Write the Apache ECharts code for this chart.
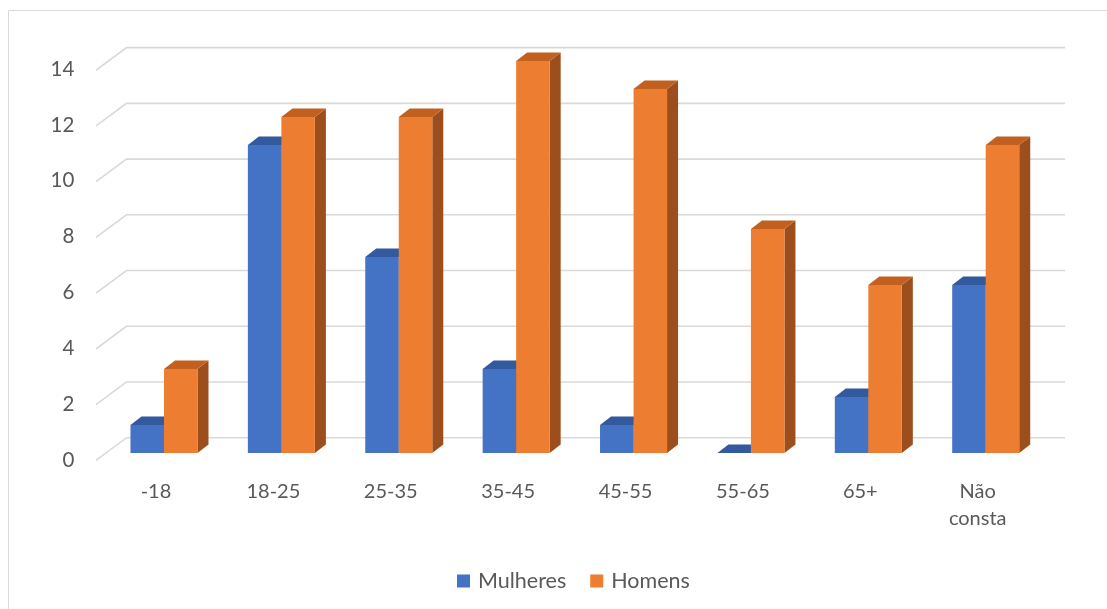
<!DOCTYPE html>
<html>
<head>
<meta charset="utf-8">
<script src="https://cdn.jsdelivr.net/npm/echarts@6/dist/echarts.min.js"></script>
<style>
  html, body { margin: 0; padding: 0; background: #fff; }
  #chart { width: 1107px; height: 609px; }
</style>
</head>
<body>
<div id="chart"></div>
<script>
// Faixas etárias e contagens por sexo
const categories = ['-18', '18-25', '25-35', '35-45', '45-55', '55-65', '65+', 'Não\nconsta'];
const mulheres = [1, 11, 7, 3, 1, 0, 2, 6];
const homens = [3, 12, 12, 14, 13, 8, 6, 11];
const yTicks = [0, 2, 4, 6, 8, 10, 12, 14];

const FONT = 'Lato, "Open Sans", sans-serif';
const TEXT = '#595959';
const DEPTH_X = 11, DEPTH_Y = -8.5;   // oblique depth of each column

// Back-wall gridlines with the short diagonal running to the front edge of the floor
function renderGrid(params, api) {
  const v = api.value(1);
  const cs = params.coordSys;
  const y0 = cs.y + cs.height;
  const yc = api.coord([0, v])[1];
  const back = y0 - 15.3 + (yc - y0) * 0.995;
  const front = back + 22.6;
  const xf = cs.x - 9.3, xb = cs.x + 21.2, xr = cs.x + cs.width + 20.6;
  return {
    type: 'polyline',
    silent: true,
    shape: { points: [[xf, front], [xb, back], [xr, back]] },
    style: { stroke: '#D9D9D9', lineWidth: 1.6, fill: null }
  };
}

// 3D-looking column: front face, top face and right side face
function columnRenderer(slot, faces) {
  return function (params, api) {
    const cat = api.value(0), val = api.value(1);
    const base = api.coord([cat, 0]);
    const top = api.coord([cat, val]);
    const bw = api.size([1, 0])[0] * 0.2855;
    const x = slot === 0 ? base[0] - bw : base[0];
    const y0 = base[1], y1 = top[1];
    return {
      type: 'group',
      children: [
        {
          type: 'polygon',
          shape: { points: [[x + bw, y1], [x + bw + DEPTH_X, y1 + DEPTH_Y], [x + bw + DEPTH_X, y0 + DEPTH_Y], [x + bw, y0]] },
          style: { fill: faces.side }
        },
        {
          type: 'polygon',
          shape: { points: [[x, y1], [x + bw, y1], [x + bw + DEPTH_X, y1 + DEPTH_Y], [x + DEPTH_X, y1 + DEPTH_Y]] },
          style: { fill: faces.top }
        },
        {
          type: 'rect',
          shape: { x: x, y: y1, width: bw, height: y0 - y1 },
          style: { fill: faces.front }
        }
      ]
    };
  };
}

const chart = echarts.init(document.getElementById('chart'), null, { renderer: 'canvas' });

const hiddenLines = {
  axisLine: { show: false },
  axisTick: { show: false },
  splitLine: { show: false }
};

chart.setOption({
  backgroundColor: '#ffffff',
  animation: false,
  graphic: [{
    type: 'rect',
    silent: true,
    shape: { x: 8.5, y: 10.5, width: 1300, height: 800 },
    style: { fill: null, stroke: '#D9D9D9', lineWidth: 1 }
  }],
  grid: [
    // plotting plane of the column fronts
    { left: 105.3, right: 62.6, top: 61, bottom: 156, containLabel: false },
    // front edge of the floor, where the value labels sit
    { left: 105.3, right: 62.6, top: 69, bottom: 148.5, containLabel: false }
  ],
  legend: {
    data: ['Mulheres', 'Homens'],
    left: 452,
    top: 565,
    icon: 'rect',
    itemWidth: 13,
    itemHeight: 13,
    itemGap: 24,
    textStyle: { color: TEXT, fontSize: 21.5, fontFamily: FONT, padding: [0, 0, 0, 3] }
  },
  xAxis: [
    {
      type: 'category',
      gridIndex: 0,
      data: categories,
      ...hiddenLines,
      axisLabel: {
        color: TEXT, fontSize: 20, fontFamily: FONT, lineHeight: 27,
        margin: 25, interval: 0, padding: [0, 16, 0, 0]
      }
    },
    {
      type: 'category',
      gridIndex: 1,
      data: categories,
      show: false
    }
  ],
  yAxis: [
    {
      type: 'value',
      gridIndex: 0,
      min: 0, max: 14, interval: 2,
      ...hiddenLines,
      axisLabel: { show: false }
    },
    {
      type: 'value',
      gridIndex: 1,
      min: 0, max: 14, interval: 2,
      ...hiddenLines,
      axisLabel: { color: TEXT, fontSize: 20.5, fontFamily: FONT, margin: 31 }
    }
  ],
  series: [
    {
      type: 'custom',
      name: 'grade',
      z: 1,
      silent: true,
      renderItem: renderGrid,
      encode: { x: 0, y: 1 },
      data: yTicks.map(v => [0, v])
    },
    {
      type: 'custom',
      name: 'Mulheres',
      z: 2,
      itemStyle: { color: '#4472C4' },
      renderItem: columnRenderer(0, { front: '#4472C4', top: '#33599E', side: '#27467E' }),
      encode: { x: 0, y: 1 },
      data: mulheres.map((v, i) => [i, v])
    },
    {
      type: 'custom',
      name: 'Homens',
      z: 3,
      itemStyle: { color: '#ED7D31' },
      renderItem: columnRenderer(1, { front: '#ED7D31', top: '#C2611F', side: '#9C4E1C' }),
      encode: { x: 0, y: 1 },
      data: homens.map((v, i) => [i, v])
    }
  ]
});
</script>
</body>
</html>
